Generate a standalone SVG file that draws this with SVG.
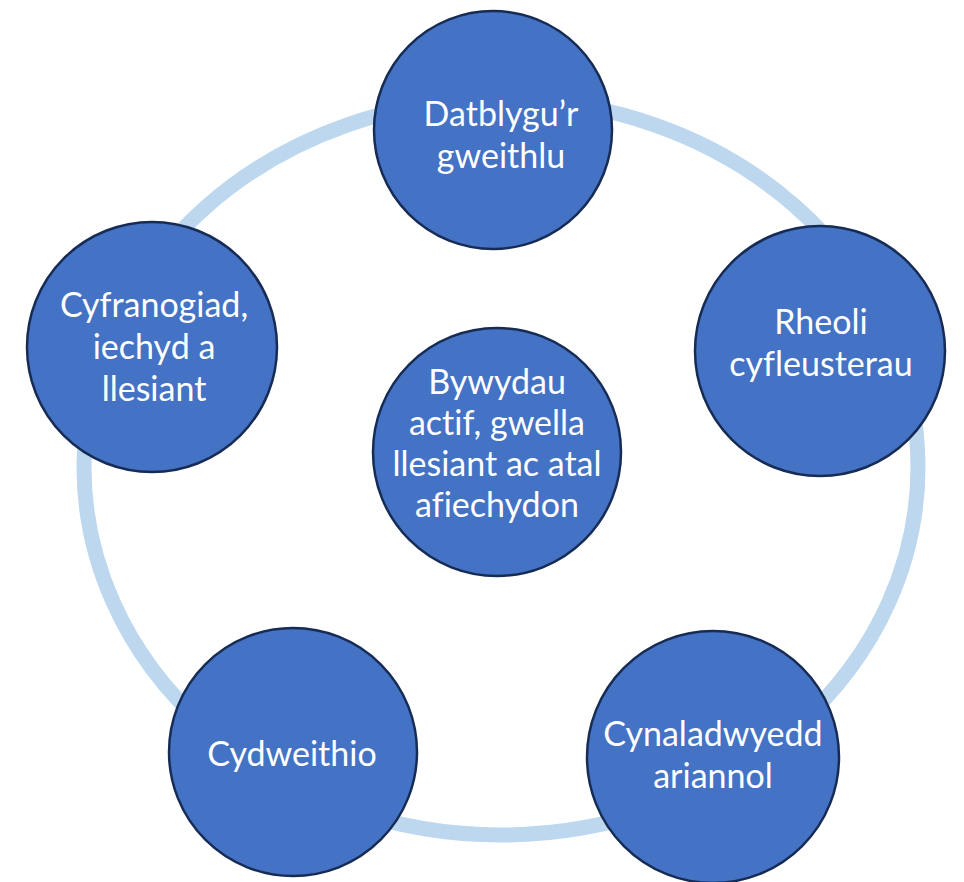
<svg xmlns="http://www.w3.org/2000/svg" width="964" height="882" viewBox="0 0 964 882">
<style>
.ring{fill:none;stroke:#BDD7EE;stroke-width:15}
.node{fill:#4472C4;stroke:#172C55;stroke-width:2.5}
.lbl{fill:#FFFFFF;font-family:Lato,"Noto Sans","Liberation Sans",sans-serif;font-size:34px;text-anchor:middle;font-variant-ligatures:none}
</style>
<rect width="964" height="882" fill="#FFFFFF"/>
<g id="connectors">
<ellipse class="ring" cx="501" cy="467" rx="417" ry="368"/>
</g>
<g id="node-datblygu">
<circle class="node" cx="493" cy="130" r="119"/>
<text class="lbl" x="501" y="126">Datblygu’r</text>
<text class="lbl" x="501" y="168">gweithlu</text>
</g>
<g id="node-rheoli">
<circle class="node" cx="820" cy="351" r="125"/>
<text class="lbl" x="821" y="334">Rheoli</text>
<text class="lbl" x="821" y="376">cyfleusterau</text>
</g>
<g id="node-cyfranogiad">
<circle class="node" cx="152" cy="347" r="125"/>
<text class="lbl" x="154" y="317">Cyfranogiad,</text>
<text class="lbl" x="154" y="359">iechyd a</text>
<text class="lbl" x="154" y="401">llesiant</text>
</g>
<g id="node-bywydau">
<circle class="node" cx="497" cy="452" r="124"/>
<text class="lbl" x="497" y="394">Bywydau</text>
<text class="lbl" x="497" y="435">actif, gwella</text>
<text class="lbl" x="497" y="476">llesiant ac atal</text>
<text class="lbl" x="497" y="517">afiechydon</text>
</g>
<g id="node-cydweithio">
<circle class="node" cx="293" cy="752" r="124"/>
<text class="lbl" x="292" y="766">Cydweithio</text>
</g>
<g id="node-cynaladwyedd">
<circle class="node" cx="713" cy="757" r="126"/>
<text class="lbl" x="713" y="746">Cynaladwyedd</text>
<text class="lbl" x="713" y="788">ariannol</text>
</g>
</svg>
